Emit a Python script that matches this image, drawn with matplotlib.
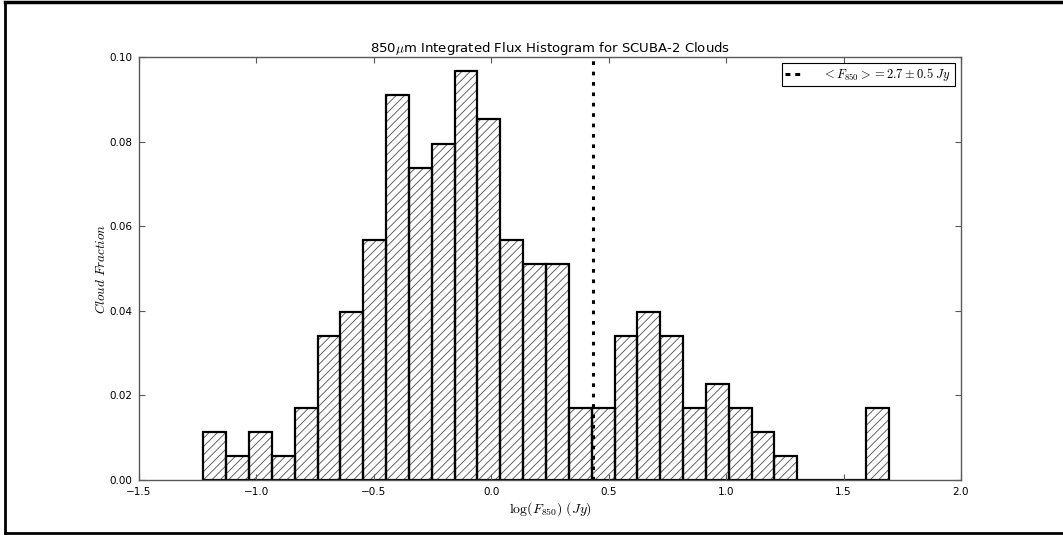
import numpy as np
import matplotlib
matplotlib.use("Agg")
import matplotlib.pyplot as plt
from matplotlib.lines import Line2D

# counts per bin of log10(F_850), 30 equal bins between the sample min and max
log_min = -1.226
log_max = 1.692
counts = [2, 1, 2, 1, 3, 6, 7, 10, 16, 13, 14, 17, 15, 10, 9, 9,
          3, 3, 6, 7, 6, 3, 4, 3, 2, 1, 0, 0, 0, 3]
n_clouds = 176
mean_flux = 2.7   # Jy
mean_err = 0.5

x_ticks = [-1.5, -1.0, -0.5, 0.0, 0.5, 1.0, 1.5, 2.0]
y_ticks = [0.00, 0.02, 0.04, 0.06, 0.08, 0.10]

plt.rcParams["mathtext.fontset"] = "cm"
plt.rcParams["hatch.linewidth"] = 0.6
plt.rcParams["xtick.direction"] = "in"
plt.rcParams["ytick.direction"] = "in"

fig = plt.figure(figsize=(10.63, 5.35), dpi=100)
ax = fig.add_axes([0.1308, 0.1028, 0.7732, 0.7907])

edges = np.linspace(log_min, log_max, len(counts) + 1)
centers = 0.5 * (edges[:-1] + edges[1:])
fractions = np.array(counts) / n_clouds
# grey hatching first, then the black bar outlines on top
ax.hist(centers, bins=edges, weights=fractions, histtype="bar",
        facecolor="white", edgecolor="0.3", linewidth=0, hatch="////")
ax.hist(centers, bins=edges, weights=fractions, histtype="bar",
        facecolor="none", edgecolor="black", linewidth=1.6)

label = r"$<F_{850}>=%.1f\pm%.1f\ Jy$" % (mean_flux, mean_err)
ax.axvline(np.log10(mean_flux), color="black", linewidth=2.2,
           linestyle=(0, (1.2, 2.2)))

ax.set_xlim(-1.5, 2.0)
ax.set_ylim(0, 0.10)
ax.set_xticks(x_ticks)
ax.set_yticks(y_ticks)
ax.tick_params(which="both", top=True, right=True, labelsize=7.5,
               length=4, width=0.8, color="0.35", pad=5)
for sp in ax.spines.values():
    sp.set_color("0.35")
    sp.set_linewidth(1.0)

ax.set_title(r"850$\mu$m Integrated Flux Histogram for SCUBA-2 Clouds",
             fontsize=9.5, pad=3)
ax.set_xlabel(r"$\log(F_{850})\ (Jy)$", fontsize=10, labelpad=2)
ax.set_ylabel(r"$Cloud\ Fraction$", fontsize=9.5, labelpad=1)

handle = Line2D([], [], color="black", linewidth=2.2, linestyle=(0, (1.6, 1.6)))
leg = ax.legend([handle], [label], loc="upper right", fontsize=9,
                fancybox=False, framealpha=1, edgecolor="black",
                handlelength=1.2, handletextpad=1.8, borderaxespad=0.5,
                borderpad=0.25)
leg.get_frame().set_linewidth(0.8)

# black frame around the figure (left, top, bottom)
fig.add_artist(Line2D([0.005, 0.005], [0.004, 0.996], color="black", lw=2.0))
fig.add_artist(Line2D([0.005, 1.0], [0.996, 0.996], color="black", lw=2.5))
fig.add_artist(Line2D([0.005, 1.0], [0.004, 0.004], color="black", lw=2.0))

fig.savefig("out.png", dpi=100, facecolor="white")
